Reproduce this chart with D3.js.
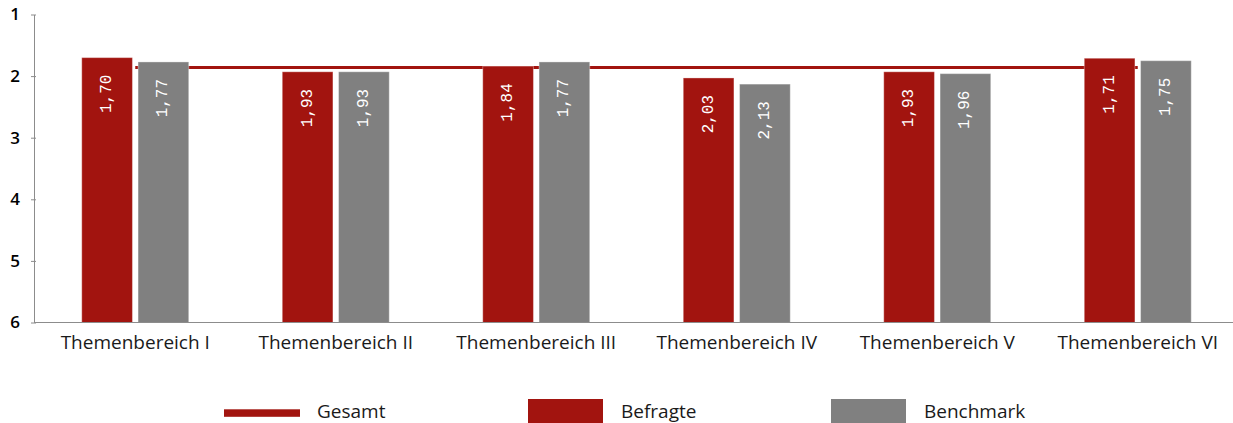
<!DOCTYPE html>
<html>
<head>
<meta charset="utf-8">
<script src="https://cdn.jsdelivr.net/npm/d3@7"></script>
<style>
  html, body { margin: 0; padding: 0; background: #fff; }
  svg { display: block; }
</style>
</head>
<body>
<svg id="chart" width="1233" height="423"></svg>
<script>
// Ratings per topic area (scale 1 = best, 6 = worst)
const categories = ["Themenbereich I", "Themenbereich II", "Themenbereich III",
                    "Themenbereich IV", "Themenbereich V", "Themenbereich VI"];
const befragte  = [1.70, 1.93, 1.84, 2.03, 1.93, 1.71];
const benchmark = [1.77, 1.93, 1.77, 2.13, 1.96, 1.75];
const gesamt = 1.86;
const yTicks = [1, 2, 3, 4, 5, 6];
const seriesNames = ["Befragte", "Benchmark"];
const legendLabels = ["Gesamt", "Befragte", "Benchmark"];

const RED = "#A2140F";
const GREY = "#808080";
const AXIS = "#8c8c8c";
const FONT = "'Open Sans', sans-serif";

const svg = d3.select("#chart");

const x0 = d3.scaleBand().domain(categories).range([35, 1238]).padding(0);
const x1 = d3.scaleBand().domain(seriesNames).range([-53.5, 53.5]).paddingInner(0.1);
const y = d3.scaleLinear().domain([1, 6]).range([14.5, 322.5]);
const color = d3.scaleOrdinal().domain(seriesNames).range([RED, GREY]);

const center = c => x0(c) + x0.bandwidth() / 2;

// Overall average line, from first to last group centre
svg.append("line")
  .attr("x1", center(categories[0]))
  .attr("x2", center(categories[categories.length - 1]))
  .attr("y1", y(gesamt)).attr("y2", y(gesamt))
  .attr("stroke", RED).attr("stroke-width", 3);

// Bars
const rows = categories.map((c, i) => ({ c, vals: [
  { s: "Befragte", v: befragte[i] }, { s: "Benchmark", v: benchmark[i] }] }));

const groups = svg.selectAll("g.grp").data(rows).join("g")
  .attr("class", "grp")
  .attr("transform", d => `translate(${center(d.c)},0)`);

groups.selectAll("rect").data(d => d.vals).join("rect")
  .attr("x", d => x1(d.s))
  .attr("width", x1.bandwidth())
  .attr("y", d => y(d.v))
  .attr("height", d => y(6) - y(d.v))
  .attr("fill", d => color(d.s))
  .attr("stroke", "#ffffff").attr("stroke-opacity", 0.35).attr("stroke-width", 1);

groups.selectAll("text.val").data(d => d.vals).join("text")
  .attr("class", "val")
  .attr("transform", d => `translate(${x1(d.s) + x1.bandwidth() / 2},${y(d.v) + 17}) rotate(-90)`)
  .attr("text-anchor", "end")
  .attr("dominant-baseline", "central")
  .attr("fill", "#fff")
  .style("font-family", "'Liberation Mono', monospace")
  .style("font-size", "16px")
  .text(d => d.v.toFixed(2).replace(".", ","));

// Y axis (inverted rating scale)
const yAxis = svg.append("g").attr("transform", "translate(34,0)")
  .call(d3.axisLeft(y).tickValues(yTicks).tickSizeInner(3).tickSizeOuter(0).tickFormat(d3.format("d")));
yAxis.select(".domain").attr("stroke", AXIS);
yAxis.selectAll(".tick line").attr("stroke", AXIS).attr("x2", 2).attr("x1", -3);
yAxis.selectAll(".tick text")
  .attr("x", -19).attr("text-anchor", "middle")
  .attr("fill", "#000")
  .style("font-family", FONT).style("font-size", "17px").style("font-weight", "600");

// X axis
const xAxis = svg.append("g").attr("transform", `translate(0,${y(6)})`)
  .call(d3.axisBottom(x0).tickSize(0).tickSizeOuter(0));
xAxis.select(".domain").attr("stroke", AXIS).attr("d", `M34,0H1233`);
xAxis.selectAll(".tick text")
  .attr("y", 0).attr("dy", 0)
  .attr("transform", "translate(0,26.5)")
  .attr("fill", "#1a1a1a")
  .style("font-family", FONT).style("font-size", "19px");

// Legend
const legend = svg.append("g");
const lgX = [224, 528, 831];
legend.append("rect").attr("x", lgX[0]).attr("y", 409.3).attr("width", 76).attr("height", 7.5).attr("fill", RED);
legend.append("rect").attr("x", lgX[1]).attr("y", 399).attr("width", 75).attr("height", 26).attr("fill", RED);
legend.append("rect").attr("x", lgX[2]).attr("y", 399).attr("width", 75).attr("height", 26).attr("fill", GREY);
legend.selectAll("text").data(legendLabels).join("text")
  .attr("x", (d, i) => lgX[i] + 93)
  .attr("y", 417.5)
  .attr("fill", "#1a1a1a")
  .style("font-family", FONT).style("font-size", "19px")
  .text(d => d);
</script>
</body>
</html>
